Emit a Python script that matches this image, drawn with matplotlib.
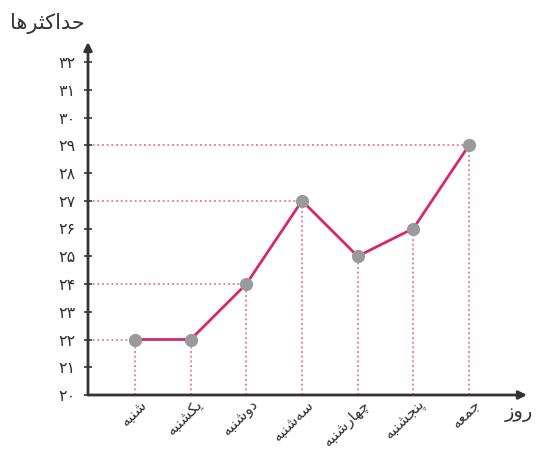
import matplotlib
matplotlib.use("Agg")
import matplotlib.pyplot as plt
import matplotlib.transforms as mtransforms

# ---------------- data ----------------
days = ["شنبه", "یکشنبه", "دوشنبه", "سه\u200cشنبه", "چهارشنبه", "پنجشنبه", "جمعه"]
max_temps = [22, 22, 24, 27, 25, 26, 29]
y_ticks = list(range(20, 33))
guide_idx = [0, 2, 3, 6]          # points with a horizontal guide to the y axis
y_label = "حداکثرها"
x_label = "روز"

# ---------------- simple Persian shaping (matplotlib has no complex text layout) ----
DUAL = {
    'ب': (0xFE8F, 0xFE90, 0xFE91, 0xFE92), 'ث': (0xFE99, 0xFE9A, 0xFE9B, 0xFE9C),
    'ج': (0xFE9D, 0xFE9E, 0xFE9F, 0xFEA0), 'ح': (0xFEA1, 0xFEA2, 0xFEA3, 0xFEA4),
    'س': (0xFEB1, 0xFEB2, 0xFEB3, 0xFEB4), 'ش': (0xFEB5, 0xFEB6, 0xFEB7, 0xFEB8),
    'ع': (0xFEC9, 0xFECA, 0xFECB, 0xFECC), 'م': (0xFEE1, 0xFEE2, 0xFEE3, 0xFEE4),
    'ن': (0xFEE5, 0xFEE6, 0xFEE7, 0xFEE8), 'ه': (0xFEE9, 0xFEEA, 0xFEEB, 0xFEEC),
    'پ': (0xFB56, 0xFB57, 0xFB58, 0xFB59), 'چ': (0xFB7A, 0xFB7B, 0xFB7C, 0xFB7D),
    'ک': (0xFB8E, 0xFB8F, 0xFB90, 0xFB91), 'ی': (0xFBFC, 0xFBFD, 0xFBFE, 0xFBFF),
}
RIGHT = {'ا': (0xFE8D, 0xFE8E), 'د': (0xFEA9, 0xFEAA), 'ر': (0xFEAD, 0xFEAE),
         'ز': (0xFEAF, 0xFEB0), 'و': (0xFEED, 0xFEEE)}


def shape(s):
    out = []
    for i, c in enumerate(s):
        prev = s[i - 1] if i > 0 else None
        nxt = s[i + 1] if i + 1 < len(s) else None
        jp = prev in DUAL and (c in DUAL or c in RIGHT)
        jn = c in DUAL and (nxt in DUAL or nxt in RIGHT)
        if c in DUAL:
            f = DUAL[c]
            out.append(chr(f[3] if (jp and jn) else f[1] if jp else f[2] if jn else f[0]))
        elif c in RIGHT:
            f = RIGHT[c]
            out.append(chr(f[1] if jp else f[0]))
        elif c == '\u200c':
            continue
        else:
            out.append(c)
    return ''.join(reversed(out))


def fa_digits(n):
    return str(n).translate(str.maketrans("0123456789", "۰۱۲۳۴۵۶۷۸۹"))


plt.rcParams['font.family'] = ['DejaVu Sans']

# ---------------- figure ----------------
W, H = 540, 449
fig = plt.figure(figsize=(W / 100, H / 100), dpi=100)
ax = fig.add_axes([88 / W, (H - 395) / H, (527 - 88) / W, (395 - 42) / H])

x = list(range(len(days)))
ymin, ymax = 20, 32 + (62 - 42) / 27.75
xmin, xmax = -(135 - 88) / 55.67, 6 + (527 - 469) / 55.67
ax.set_xlim(xmin, xmax)
ax.set_ylim(ymin, ymax)

guide_c = '#ee7fae'
for i in x:
    ax.plot([i, i], [ymin, max_temps[i]], color=guide_c, lw=1.4, ls=(0, (1, 1.4)), zorder=1)
for i in guide_idx:
    ax.plot([xmin, i], [max_temps[i], max_temps[i]], color=guide_c, lw=1.4, ls=(0, (1, 1.4)), zorder=1)

ax.plot(x, max_temps, color='#d6286e', lw=2, zorder=2)
ax.plot(x, max_temps, ls='none', marker='o', ms=8.5, color='#9a9a9a', zorder=3)

for s in ax.spines.values():
    s.set_visible(False)

axc = '#333333'
ax.annotate('', xy=(0, 1), xytext=(0, 0), xycoords='axes fraction',
            arrowprops=dict(arrowstyle='-|>', color=axc, lw=2, mutation_scale=12,
                            shrinkA=0, shrinkB=0), zorder=4)
ax.annotate('', xy=(1, 0), xytext=(0, 0), xycoords='axes fraction',
            arrowprops=dict(arrowstyle='-|>', color=axc, lw=2, mutation_scale=12,
                            shrinkA=0, shrinkB=0), zorder=4)

ax.set_yticks(y_ticks)
ax.set_yticklabels([fa_digits(v) for v in y_ticks], fontsize=11.5, color=axc)
ax.tick_params(axis='y', direction='inout', length=6, width=1.2, color=axc, pad=6)

ax.set_xticks(x)
ax.set_xticklabels([shape(d) for d in days], rotation=45, ha='right', va='top',
                   rotation_mode='anchor', fontsize=11, color=axc)
ax.tick_params(axis='x', length=0, pad=1)
offset = mtransforms.ScaledTranslation(4 / 100, 0, fig.dpi_scale_trans)
for lbl in ax.get_xticklabels():
    lbl.set_transform(lbl.get_transform() + offset)

fig.text(10 / W, 1 - 24 / H, shape(y_label), fontsize=15, color=axc, ha='left', va='center')
fig.text(505 / W, 1 - 413 / H, shape(x_label), fontsize=14, color=axc, ha='left', va='center')

fig.savefig('out.png', dpi=100)
